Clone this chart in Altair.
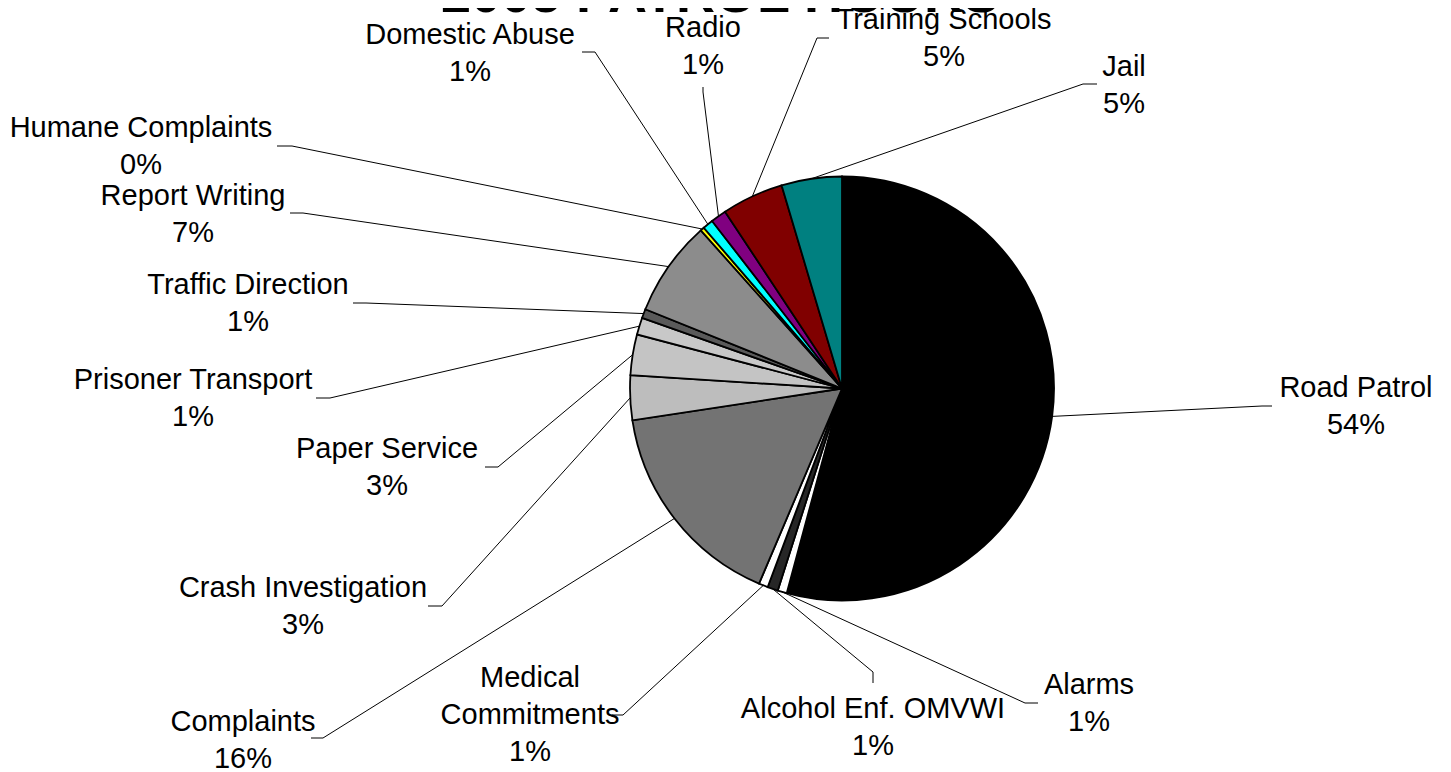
import math
import altair as alt
import pandas as pd

# ---- data ----
categories = ["Road Patrol", "Alarms", "Alcohol Enf. OMVWI", "Medical Commitments",
              "Complaints", "Crash Investigation", "Paper Service", "Prisoner Transport",
              "Traffic Direction", "Report Writing", "Humane Complaints", "Domestic Abuse",
              "Radio", "Training Schools", "Jail"]
shares = [54.2, 0.7, 0.8, 0.7, 16.2, 3.4, 3.1, 1.3, 0.7, 7.3, 0.3, 0.8, 1.2, 4.7, 4.6]
display_names = ["Road Patrol", "Alarms", "Alcohol Enf. OMVWI", "Medical\nCommitments",
                 "Complaints", "Crash Investigation", "Paper Service", "Prisoner Transport",
                 "Traffic Direction", "Report Writing", "Humane Complaints", "Domestic Abuse",
                 "Radio", "Training Schools", "Jail"]
title_text = "2005 PATROL HOURS"

# ---- styles ----
fills = ["#000000", "#ffffff", "#262626", "#ffffff", "#737373", "#bdbdbd", "#c4c4c4",
         "#c8c8c8", "#5a5a5a", "#8c8c8c", "#ffff00", "#00ffff", "#800080", "#800000", "#008080"]

# ---- layout (page pixel coordinates; label y = first text line) ----
W, H = 1435, 762
CX, CY, R = 842, 388.5, 212
label_x = [1356, 1089, 873, 530, 243, 303, 387, 193, 248, 193, 141, 470, 703, 944, 1124]
label_y = [388, 685, 709, 678, 722, 588, 449, 380, 285, 196, 128, 35, 28, 20, 67]
leader_start = [(1272, 406), (1038, 703), (873, 683), (612, 715), (311, 738), (428, 606),
                (485, 467), (316, 398), (353, 303), (290, 213), (277, 146), (582, 52),
                (703, 87), (829, 38), (1097, 84)]
leader_elbow = [(1262, 406), (1025, 703), (873, 672), (623, 715), (323, 738), (442, 606),
                (498, 467), (330, 398), (366, 303), (303, 213), (292, 146), (595, 52),
                (703, 92), (817, 38), (1083, 84)]

pie_df = pd.DataFrame({"cat": categories, "val": shares, "idx": list(range(len(categories))),
                       "disp": display_names, "lx": label_x, "ly": label_y})

# leader lines end on the pie rim at the middle angle of each slice
total = sum(shares)
rows = []
cum = 0.0
for i, (c, v) in enumerate(zip(categories, shares)):
    mid = (cum + v / 2) / total * 2 * math.pi
    cum += v
    ex = CX + R * math.sin(mid)
    ey = CY - R * math.cos(mid)
    pts = [leader_start[i], leader_elbow[i], (ex, ey)]
    for k, (px, py) in enumerate(pts):
        rows.append({"cat": c, "pt": k, "x": px, "y": py})
lead_df = pd.DataFrame(rows)

xs = alt.Scale(domain=[8, 8 + W], nice=False, zero=False)
ys = alt.Scale(domain=[8, 8 + H], nice=False, zero=False, reverse=True)
FONT = "Liberation Sans"

pie = alt.Chart(pie_df).mark_arc(radius=R, stroke="black", strokeWidth=1.8).encode(
    theta=alt.Theta("val:Q", stack=True),
    order=alt.Order("idx:Q", sort="ascending"),
    color=alt.Color("cat:N", scale=alt.Scale(domain=categories, range=fills), legend=None),
    x=alt.XDatum(CX, type="quantitative", scale=xs, axis=None),
    y=alt.YDatum(CY, type="quantitative", scale=ys, axis=None),
)

leaders = alt.Chart(lead_df).mark_line(color="black", strokeWidth=1).encode(
    x=alt.X("x:Q", scale=xs, axis=None),
    y=alt.Y("y:Q", scale=ys, axis=None),
    detail="cat:N",
    order="pt:Q",
)

labels = alt.Chart(pie_df).transform_joinaggregate(
    total="sum(val)"
).transform_calculate(
    txt="datum.disp + '\\n' + format(round(datum.val / datum.total * 100), 'd') + '%'"
).mark_text(font=FONT, fontSize=29, lineHeight=37, lineBreak="\n",
            align="center", baseline="middle", color="black").encode(
    x=alt.X("lx:Q", scale=xs, axis=None),
    y=alt.Y("ly:Q", scale=ys, axis=None),
    text="txt:N",
)

title = alt.Chart(pd.DataFrame({"t": [title_text]})).mark_text(
    font=FONT, fontSize=54, fontWeight="bold", align="center", baseline="alphabetic", color="black"
).encode(
    x=alt.XDatum(720, type="quantitative", scale=xs, axis=None),
    y=alt.YDatum(12, type="quantitative", scale=ys, axis=None),
    text="t:N",
)

chart = alt.layer(pie, leaders, labels, title).properties(
    width=W, height=H, padding=0, autosize=alt.AutoSizeParams(type="none")
).configure_view(stroke=None)

chart.save("out.html", embed_options={"renderer": "svg", "actions": False})
